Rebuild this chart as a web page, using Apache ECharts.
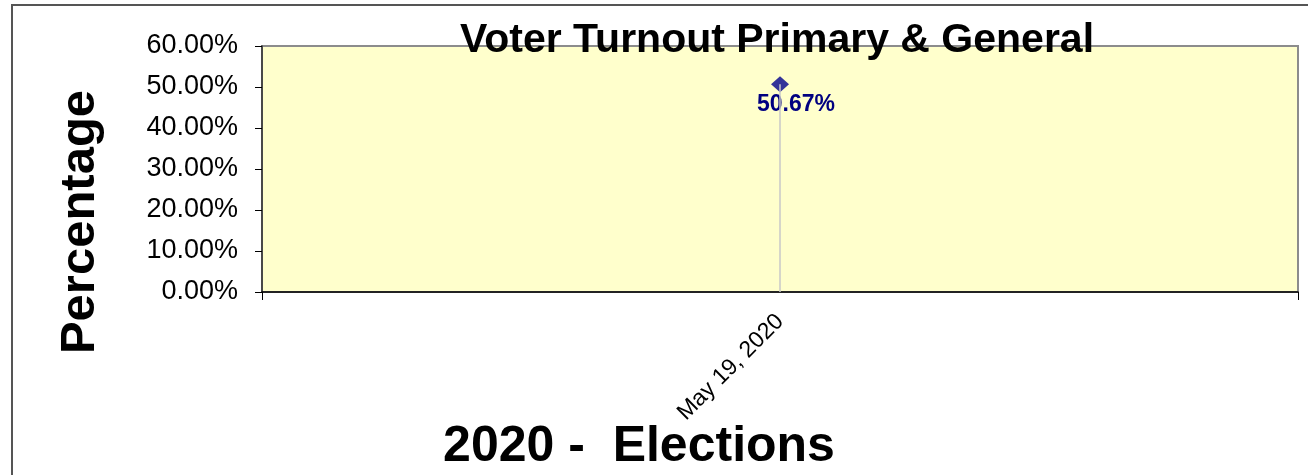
<!DOCTYPE html>
<html>
<head>
<meta charset="utf-8">
<script src="https://cdn.jsdelivr.net/npm/echarts@6/dist/echarts.min.js"></script>
<style>
html,body{margin:0;padding:0;background:#fff;}
#chart{width:1308px;height:475px;}
</style>
</head>
<body>
<div id="chart"></div>
<script>
var categories = ['May 19, 2020'];
var turnout = [0.5067];
var yTicks = {min: 0, max: 0.6, interval: 0.1};
var titleText = 'Voter Turnout Primary & General';
var yAxisTitle = 'Percentage';
var xAxisTitle = '2020 -  Elections';

var font = 'Liberation Sans, Arial, sans-serif';
var chart = echarts.init(document.getElementById('chart'));
chart.setOption({
  animation: false,
  textStyle: {fontFamily: font},
  title: {
    text: titleText,
    left: 772, top: 15, textAlign: 'center',
    textStyle: {fontSize: 41, fontWeight: 'bold', color: '#000', fontFamily: font}
  },
  graphic: [
    {type: 'rect', z: -10, silent: true,
     shape: {x: 12, y: 5, width: 1400, height: 600},
     style: {fill: 'none', stroke: '#555', lineWidth: 2}},
    {type: 'text', x: 80, y: 222, rotation: Math.PI / 2,
     style: {text: yAxisTitle, font: 'bold 49px ' + font, fill: '#000',
             textAlign: 'center', textVerticalAlign: 'middle'}},
    {type: 'text', x: 639, y: 447,
     style: {text: xAxisTitle, font: 'bold 50px ' + font, fill: '#000',
             textAlign: 'center', textVerticalAlign: 'middle'}}
  ],
  grid: {
    left: 262, right: 10, top: 46, bottom: 183,
    show: true, backgroundColor: '#FFFFCC', borderColor: '#8c8c8c', borderWidth: 2
  },
  xAxis: {
    type: 'category', data: categories, boundaryGap: true,
    axisLine: {lineStyle: {color: '#000', width: 1.5}},
    axisTick: {show: true, length: 8, lineStyle: {color: '#000'}},
    axisLabel: {rotate: 45, margin: 26, fontSize: 23, color: '#000', fontFamily: font},
    splitLine: {show: false}
  },
  yAxis: {
    type: 'value', min: yTicks.min, max: yTicks.max, interval: yTicks.interval,
    axisLine: {show: true, lineStyle: {color: '#333', width: 1.5}},
    axisTick: {show: true, length: 7, lineStyle: {color: '#000'}},
    axisLabel: {margin: 24, fontSize: 27, color: '#000', fontFamily: font,
      formatter: function (v) { return (v * 100).toFixed(2) + '%'; }},
    splitLine: {show: false}
  },
  series: [{
    type: 'line',
    data: turnout,
    symbol: 'diamond', symbolSize: [18, 16],
    itemStyle: {color: '#333399'},
    lineStyle: {width: 0},
    label: {show: true, position: 'bottom', distance: 1, offset: [16, 0],
      fontSize: 23, fontWeight: 'bold', color: '#000080', fontFamily: font,
      formatter: function (p) { return (p.value * 100).toFixed(2) + '%'; }},
    markLine: {
      silent: true, symbol: 'none', label: {show: false},
      lineStyle: {color: '#c8c8c8', width: 1.5, type: 'solid'},
      data: [[{coord: [0, 0]}, {coord: [0, turnout[0]]}]]
    }
  }]
});
</script>
</body>
</html>
